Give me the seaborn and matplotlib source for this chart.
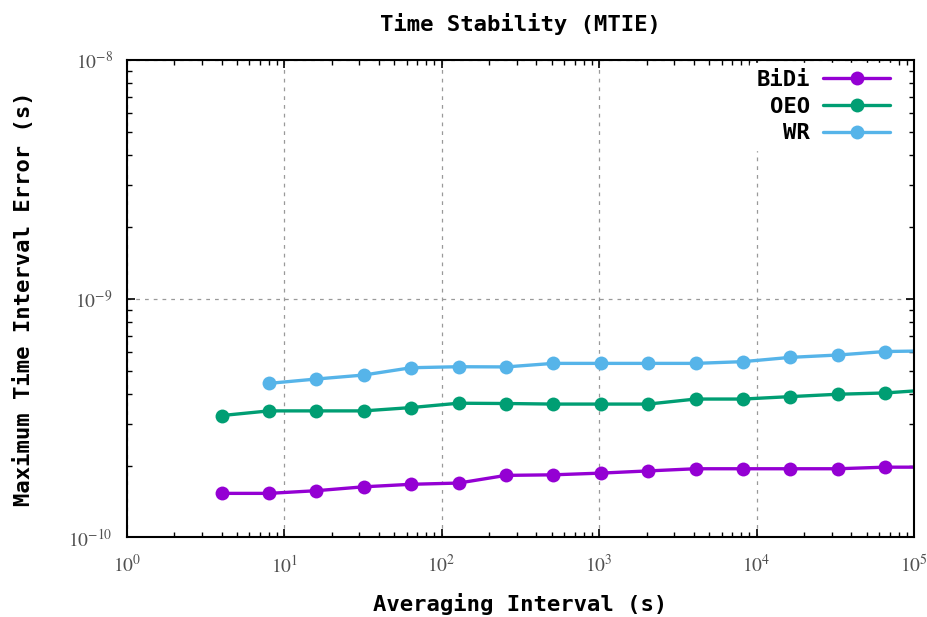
import numpy as np
import pandas as pd
from matplotlib import pyplot as plt
from matplotlib import ticker
import seaborn as sns

# averaging intervals (s); the last point sits past 1e5 so the line runs to the border
tau = [4, 8, 16, 32, 64, 128, 256, 512, 1024, 2048, 4096, 8192, 16384, 32768, 65536, 131072]

# MTIE values (units of 1e-10 s)
bidi = [1.53, 1.53, 1.57, 1.63, 1.67, 1.69, 1.82, 1.83, 1.86, 1.90, 1.94, 1.94, 1.94, 1.94, 1.97, 1.97]
oeo = [3.24, 3.39, 3.39, 3.39, 3.50, 3.65, 3.64, 3.62, 3.62, 3.62, 3.80, 3.80, 3.89, 3.98, 4.03, 4.16]
wr = [np.nan, 4.42, 4.61, 4.79, 5.14, 5.19, 5.18, 5.36, 5.36, 5.36, 5.36, 5.45, 5.68, 5.81, 6.01, 6.05]

series_names = ["BiDi", "OEO", "WR"]
series_colors = ["#9400D3", "#009E73", "#56B4E9"]

title = "Time Stability (MTIE)"
xlabel = "Averaging Interval (s)"
ylabel = "Maximum Time Interval Error (s)"

###############################################################################
# tabela longa para o seaborn
###############################################################################
df = pd.DataFrame({"tau": tau * 3,
                   "mtie": np.array(bidi + oeo + wr) * 1e-10,
                   "serie": [n for n in series_names for _ in tau]})
df = df.dropna()

sns.set_style("ticks")
plt.rcParams["mathtext.fontset"] = "stix"
plt.rcParams["text.color"] = "black"
mono = ["DejaVu Sans Mono"]

fig = plt.figure(figsize=(9.27, 6.17), dpi=100)
ax = fig.add_axes([0.1367, 0.1289, 0.8493, 0.7739])

for name, color in zip(series_names, series_colors):
    sub = df[df["serie"] == name]
    sns.lineplot(data=sub, x="tau", y="mtie", ax=ax, color=color, label=name,
                 marker="o", markersize=10, markeredgewidth=0, linewidth=2.4,
                 estimator=None, sort=False)

ax.set_xscale("log")
ax.set_yscale("log")
ax.set_xlim(1, 1e5)
ax.set_ylim(1e-10, 1e-8)

# grade tracejada nas decadas
ax.grid(True, which="major", linestyle=(0, (3, 4)), color="#999999", linewidth=0.9)
ax.set_axisbelow(True)

# rotulos 10^n em fonte serifada
pot10 = ticker.FuncFormatter(lambda v, p: r"$10^{%d}$" % round(np.log10(v)))
ax.xaxis.set_major_locator(ticker.LogLocator(base=10, numticks=10))
ax.xaxis.set_major_formatter(pot10)
ax.yaxis.set_major_formatter(pot10)
ax.xaxis.set_minor_locator(ticker.LogLocator(base=10, subs=np.arange(2, 10), numticks=20))
ax.yaxis.set_minor_locator(ticker.LogLocator(base=10, subs=np.arange(2, 10), numticks=20))
ax.xaxis.set_minor_formatter(ticker.NullFormatter())
ax.yaxis.set_minor_formatter(ticker.NullFormatter())
ax.tick_params(which="both", direction="in", top=True, right=True, color="black")
ax.tick_params(which="major", length=6, width=1.2, labelsize=14, labelcolor="#505050")
ax.tick_params(axis="x", which="major", pad=12)
ax.tick_params(axis="y", which="major", pad=10)
ax.tick_params(which="minor", length=3.5, width=1.0)
for s in ax.spines.values():
    s.set_linewidth(1.5)
    s.set_color("black")

ax.set_title(title, family=mono, fontweight="bold", fontsize=16, pad=21, color="black")
ax.set_xlabel(xlabel, family=mono, fontweight="bold", fontsize=16, labelpad=12, color="black")
ax.set_ylabel(ylabel, family=mono, fontweight="bold", fontsize=16, labelpad=25, color="black")

leg = ax.legend(loc="upper right", bbox_to_anchor=(0.982, 1.0), markerfirst=False,
                frameon=True, fancybox=False, framealpha=1, edgecolor="white",
                handlelength=3.0, handletextpad=0.6, borderaxespad=0.15, borderpad=0.3,
                labelspacing=0.3, prop={"family": mono, "weight": "bold", "size": 16})
for t in leg.get_texts():
    t.set_ha("right")
    t.set_color("black")

plt.savefig("out.png", dpi=100)
